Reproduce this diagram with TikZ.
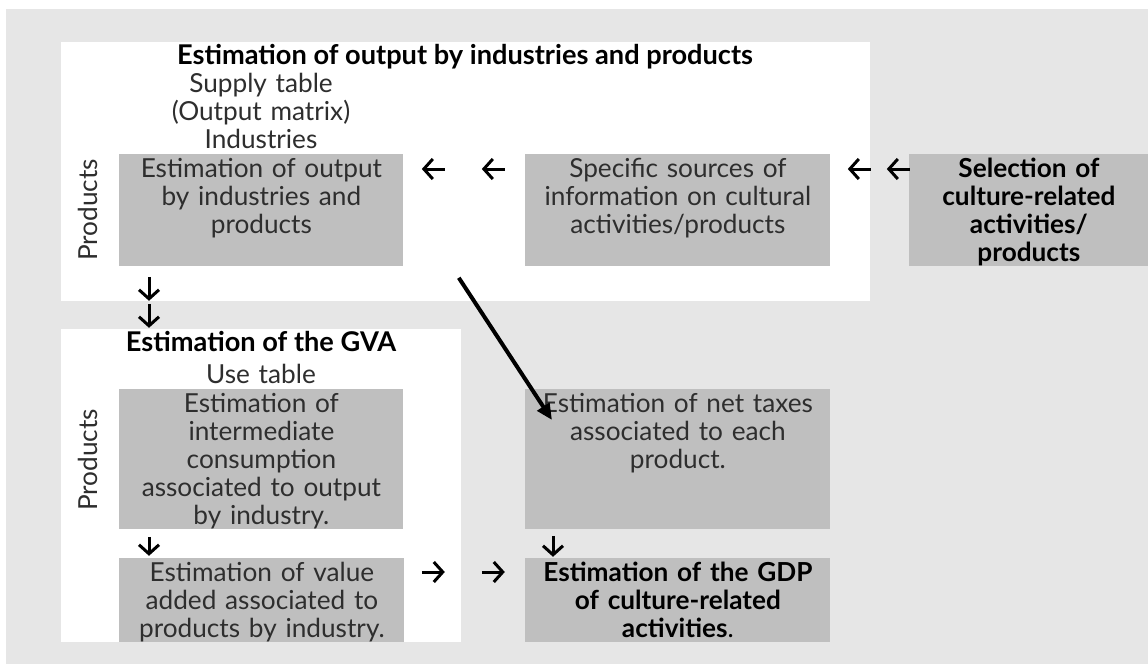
\documentclass[tikz,border=0pt]{standalone}
\usepackage{fontspec}
\setmainfont{Lato}
\usetikzlibrary{arrows.meta,positioning}
\definecolor{bggray}{HTML}{E6E6E6}
\definecolor{boxgray}{HTML}{BFBFBF}
\definecolor{ink}{HTML}{2E2E2E}

\begin{document}
\begin{tikzpicture}[x=0.5pt, y=-0.5pt,
  txt/.style={font=\fontsize{13.1}{14}\selectfont},
  panel/.style={fill=white, inner sep=0pt, anchor=north west},
  gbox/.style={txt, fill=boxgray, inner sep=0pt, anchor=north west, align=center, text=ink, text height=11.5pt},
  head/.style={font=\fontsize{13.6}{14}\selectfont\bfseries, anchor=base},
  sub/.style={txt, text=ink, anchor=base, align=center, text width=200pt},
  sidelab/.style={txt, text=ink, rotate=90},
  glyph/.style={line width=1.5pt, -{Straight Barb[length=4.5pt,width=10pt]}},
  bigarrow/.style={line width=2pt, -{Triangle[length=8pt,width=7pt]}}]
  \useasboundingbox (0,0) rectangle (1148,664);
  \fill[bggray] (6,9) rectangle (1148,664);

  % Supply table panel
  \node[panel, minimum width=404.5pt, minimum height=129.5pt] (supply) at (61,42) {};
  \node[head] (t1) at (465,64) {Estimation of output by industries and products};
  \node[sub] (st) at (261,92.5) {Supply table\\(Output matrix)\\Industries};
  \node[sidelab] (p1) at (88,210) {Products};
  \node[gbox, minimum width=142pt, text width=142pt, text depth=44.5pt] (a1) at (119,154)
    {Estimation of output\\by industries and\\products};
  \node[gbox, minimum width=152.5pt, text width=152.5pt, text depth=44.5pt] (a2) at (525,154)
    {Specific sources of\\information on cultural\\activities/products};
  \node[gbox, minimum width=119.5pt, text width=119.5pt, text depth=44.5pt, text=black, font=\fontsize{13.1}{14}\selectfont\bfseries] (a3) at (909,154)
    {Selection of\\culture-related\\activities/\\products};

  % Use table panel
  \node[panel, minimum width=200pt, minimum height=156.5pt] (use) at (61,329) {};
  \node[head] (t2) at (261,351.5) {Estimation of the GVA};
  \node[sub] (ut) at (261,383.3) {Use table};
  \node[sidelab] (p2) at (88,460) {Products};
  \node[gbox, minimum width=142pt, text width=142pt, text depth=58.5pt] (b1) at (119,389)
    {Estimation of\\intermediate\\consumption\\associated to output\\by industry.};
  \node[gbox, minimum width=142.5pt, text width=142.5pt, text depth=30.5pt] (b2) at (119,558)
    {Estimation of value\\added associated to\\products by industry.};

  % Taxes and GDP
  \node[gbox, minimum width=152.5pt, text width=152.5pt, text depth=58.5pt] (c1) at (525,389)
    {Estimation of net taxes\\associated to each\\product.};
  \node[gbox, minimum width=152.5pt, text width=152.5pt, text depth=30.5pt, text=black] (c2) at (525,558)
    {\textbf{Estimation of the GDP}\\\textbf{of culture-related}\\\textbf{activities}.};

  % arrows
  \foreach \dx in {18,78}
    \draw[glyph] ([shift={(\dx+23,15)}]a1.north east) -- ([shift={(\dx,15)}]a1.north east);
  \foreach \dx in {17,56}
    \draw[glyph] ([shift={(\dx+23,15)}]a2.north east) -- ([shift={(\dx,15)}]a2.north east);
  \foreach \dy in {10,37}
    \draw[glyph] ([shift={(30,\dy)}]a1.south west) -- ([shift={(30,\dy+24)}]a1.south west);
  \draw[glyph] ([shift={(30,7)}]b1.south west) -- ([shift={(30,26)}]b1.south west);
  \draw[glyph] ([shift={(28,6)}]c1.south west) -- ([shift={(28,27)}]c1.south west);
  \foreach \dx in {17,77}
    \draw[glyph] ([shift={(\dx,14)}]b2.north east) -- ([shift={(\dx+23,14)}]b2.north east);
  \coordinate (tx) at ([shift={(55,11)}]a1.south east);
  \draw[bigarrow] (tx) -- ([shift={(27,31)}]c1.north west);
\end{tikzpicture}
\end{document}
